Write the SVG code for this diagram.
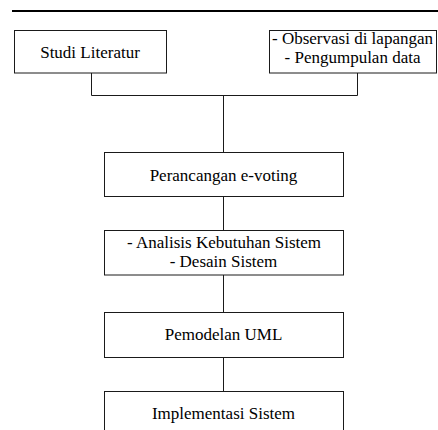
<svg xmlns="http://www.w3.org/2000/svg" width="438" height="430" viewBox="0 0 438 430">
  <style>
    .box { fill: #ffffff; stroke: #1a1a1a; stroke-width: 1; }
    .wire { fill: none; stroke: #1a1a1a; stroke-width: 1; }
    .lbl { font-family: "Liberation Serif", "Times New Roman", serif; font-size: 17px; fill: #000000; text-anchor: middle; }
  </style>
  <rect width="438" height="430" fill="#ffffff"/>
  <!-- page rule -->
  <line x1="12" y1="11" x2="438" y2="11" stroke="#000000" stroke-width="2"/>

  <g id="connectors">
    <path class="wire" d="M91.5 73 V95.5 H357.5 V73"/>
    <path class="wire" d="M223.5 95.5 V152.5"/>
    <path class="wire" d="M223.5 196.5 V230.5"/>
    <path class="wire" d="M223.5 275 V312.5"/>
    <path class="wire" d="M223.5 357.5 V391.5"/>
  </g>

  <g id="studi-literatur">
    <rect class="box" x="14.5" y="30.5" width="152" height="42.5"/>
    <text class="lbl" x="90" y="58">Studi Literatur</text>
  </g>

  <g id="observasi">
    <rect class="box" x="269.5" y="30.5" width="167" height="42.5"/>
    <text class="lbl" x="352.5" y="44">- Observasi di lapangan</text>
    <text class="lbl" x="352.5" y="63">- Pengumpulan data</text>
  </g>

  <g id="perancangan">
    <rect class="box" x="104.5" y="152.5" width="239" height="44"/>
    <text class="lbl" x="223.5" y="181">Perancangan e-voting</text>
  </g>

  <g id="analisis">
    <rect class="box" x="104.5" y="230.5" width="239" height="44.5"/>
    <text class="lbl" x="224" y="247.5">- Analisis Kebutuhan Sistem</text>
    <text class="lbl" x="223.5" y="266.5">- Desain Sistem</text>
  </g>

  <g id="pemodelan-uml">
    <rect class="box" x="104.5" y="312.5" width="239" height="45"/>
    <text class="lbl" x="223.5" y="340">Pemodelan UML</text>
  </g>

  <g id="implementasi">
    <rect class="box" x="104.5" y="391.5" width="239" height="50"/>
    <text class="lbl" x="223.5" y="418.5">Implementasi Sistem</text>
  </g>
</svg>
